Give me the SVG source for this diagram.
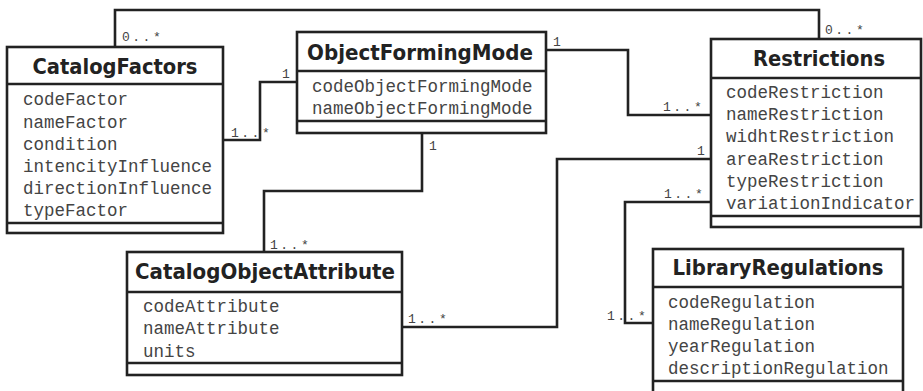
<svg xmlns="http://www.w3.org/2000/svg" width="923" height="391" viewBox="0 0 923 391">
  <style>
    .box { fill: #ffffff; stroke: #222222; stroke-width: 2.6; }
    .div { stroke: #222222; stroke-width: 2.6; }
    .title { font-family: "DejaVu Sans", "Liberation Sans", sans-serif; font-weight: bold; font-size: 21px; fill: #222222; text-anchor: middle; }
    .attr { font-family: "Liberation Mono", "Courier New", monospace; font-size: 17.5px; fill: #444444; }
    .mult { font-family: "Liberation Mono", "Courier New", monospace; font-size: 13px; fill: #444444; letter-spacing: 2.5px; }
    .conn { fill: none; stroke: #222222; stroke-width: 2.6; stroke-linejoin: miter; }
  </style>
  <rect width="923" height="391" fill="#ffffff"/>

  <!-- associations -->
  <g id="connectors">
    <polyline class="conn" points="115,47 115,10 819,10 819,39"/>
    <polyline class="conn" points="223,140 260,140 260,82 297,82"/>
    <polyline class="conn" points="546,50 628,50 628,115 711,115"/>
    <polyline class="conn" points="422,133 422,191 264,191 264,252"/>
    <polyline class="conn" points="402,327 557,327 557,159 711,159"/>
    <polyline class="conn" points="711,202 625,202 625,323 653,323"/>
    <text class="mult" x="122" y="41">0..*</text>
    <text class="mult" x="825" y="34">0..*</text>
    <text class="mult" x="231" y="137">1..*</text>
    <text class="mult" x="282" y="78">1</text>
    <text class="mult" x="553" y="46">1</text>
    <text class="mult" x="663" y="111">1..*</text>
    <text class="mult" x="429" y="150">1</text>
    <text class="mult" x="270" y="249">1..*</text>
    <text class="mult" x="408" y="323">1..*</text>
    <text class="mult" x="697" y="155">1</text>
    <text class="mult" x="664" y="198">1..*</text>
    <text class="mult" x="607" y="320">1..*</text>
  </g>

  <g id="CatalogFactors">
    <rect class="box" x="7" y="47" width="216" height="186"/>
    <line class="div" x1="7" y1="84" x2="223" y2="84"/>
    <line class="div" x1="7" y1="223" x2="223" y2="223"/>
    <text class="title" x="115" y="74" textLength="165" lengthAdjust="spacingAndGlyphs">CatalogFactors</text>
    <text class="attr" x="23" y="105">codeFactor</text>
    <text class="attr" x="23" y="128">nameFactor</text>
    <text class="attr" x="23" y="150">condition</text>
    <text class="attr" x="23" y="172">intencityInfluence</text>
    <text class="attr" x="23" y="194">directionInfluence</text>
    <text class="attr" x="23" y="216">typeFactor</text>
  </g>

  <g id="ObjectFormingMode">
    <rect class="box" x="297" y="32" width="249" height="101"/>
    <line class="div" x1="297" y1="71" x2="546" y2="71"/>
    <line class="div" x1="297" y1="121" x2="546" y2="121"/>
    <text class="title" x="420" y="60" textLength="226" lengthAdjust="spacingAndGlyphs">ObjectFormingMode</text>
    <text class="attr" x="312" y="92">codeObjectFormingMode</text>
    <text class="attr" x="312" y="114">nameObjectFormingMode</text>
  </g>

  <g id="Restrictions">
    <rect class="box" x="711" y="39" width="210" height="188"/>
    <line class="div" x1="711" y1="78" x2="921" y2="78"/>
    <line class="div" x1="711" y1="216" x2="921" y2="216"/>
    <text class="title" x="819" y="66" textLength="132" lengthAdjust="spacingAndGlyphs">Restrictions</text>
    <text class="attr" x="726" y="98">codeRestriction</text>
    <text class="attr" x="726" y="120">nameRestriction</text>
    <text class="attr" x="726" y="142">widhtRestriction</text>
    <text class="attr" x="726" y="165">areaRestriction</text>
    <text class="attr" x="726" y="187">typeRestriction</text>
    <text class="attr" x="726" y="209">variationIndicator</text>
  </g>

  <g id="CatalogObjectAttribute">
    <rect class="box" x="127" y="252" width="275" height="123"/>
    <line class="div" x1="127" y1="292" x2="402" y2="292"/>
    <line class="div" x1="127" y1="363" x2="402" y2="363"/>
    <text class="title" x="265" y="279" textLength="260" lengthAdjust="spacingAndGlyphs">CatalogObjectAttribute</text>
    <text class="attr" x="143" y="312">codeAttribute</text>
    <text class="attr" x="143" y="334">nameAttribute</text>
    <text class="attr" x="143" y="357">units</text>
  </g>

  <g id="LibraryRegulations">
    <rect class="box" x="653" y="249" width="250" height="150"/>
    <line class="div" x1="653" y1="287" x2="903" y2="287"/>
    <line class="div" x1="653" y1="381" x2="903" y2="381"/>
    <text class="title" x="778" y="275" textLength="211" lengthAdjust="spacingAndGlyphs">LibraryRegulations</text>
    <text class="attr" x="668" y="308">codeRegulation</text>
    <text class="attr" x="668" y="330">nameRegulation</text>
    <text class="attr" x="668" y="352">yearRegulation</text>
    <text class="attr" x="668" y="374">descriptionRegulation</text>
  </g>
</svg>
